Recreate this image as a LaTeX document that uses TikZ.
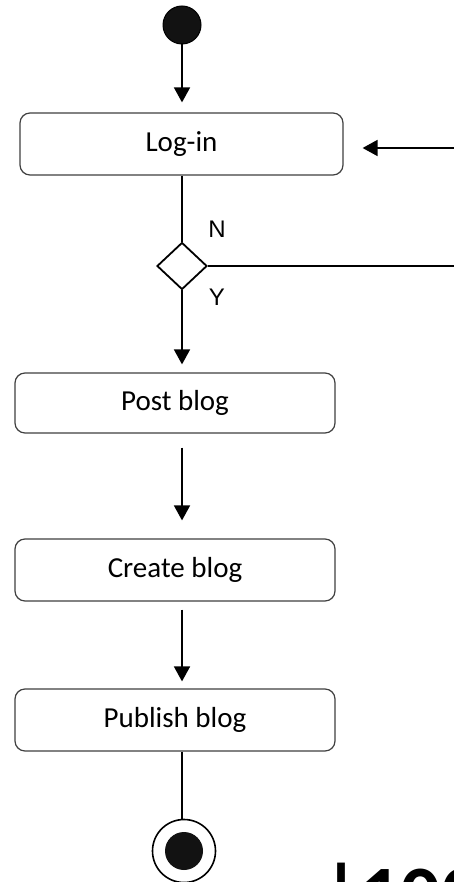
\documentclass[tikz,border=0pt]{standalone}
\usepackage{fontspec}
\setmainfont{Carlito}
\newfontfamily\labelfont{Liberation Sans}
\usetikzlibrary{shapes.geometric,arrows.meta}

\begin{document}
\begin{tikzpicture}[x=1pt,y=-1pt,
  flow/.style={line width=1.8pt,-{Triangle[length=15pt,width=16pt]}},
  plain/.style={line width=1.8pt},
  activity/.style={draw=black!75,line width=1.2pt,rounded corners=10pt,
    minimum width=320pt,minimum height=62pt,inner sep=0pt,
    font=\fontsize{29}{33}\selectfont},
  guard/.style={font=\labelfont\fontsize{24}{28}\selectfont,inner sep=0pt},
]
% page area
\clip (0,0) rectangle (454,882);
\fill[white] (0,0) rectangle (454,882);

% initial node
\node[circle,fill=black!93,draw=black,line width=1pt,minimum size=38pt,inner sep=0pt] (start) at (182,25) {};

% activities
\node[activity,minimum width=323pt] (login) at (181.5,144) {Log-in};
\node[activity,minimum height=60pt] (post) at (175,403) {Post blog};
\node[activity] (create) at (175,570) {Create blog};
\node[activity] (publish) at (175,720) {Publish blog};

% decision
\node[diamond,draw=black,line width=1.8pt,minimum width=50pt,minimum height=47pt,inner sep=0pt,aspect=1] (dec) at (182,266) {};
\node[guard] (nlab) at (217,229) {N};
\node[guard] (ylab) at (217,297) {Y};

% final node
\node[circle,draw=black,line width=1.6pt,minimum size=63pt,inner sep=0pt] (stop) at (184,851) {};
\node[circle,fill=black!93,minimum size=38pt,inner sep=0pt] (stopdot) at (stop.center) {};

% loose ends on the right
\coordinate (retin) at (454,148);
\coordinate (retout) at (454,266);

% connectors
\draw[flow,shorten <=-1pt,shorten >=10pt] (start) -- (start |- login.north);
\draw[flow,shorten >=19pt] (retin) -- (login.east |- retin);
\draw[plain] (login.south -| dec) -- (dec.north);
\draw[plain] (dec.east) -- (retout);
\draw[flow,shorten >=8pt] (dec.south) -- (dec.south |- post.north);
\draw[flow,shorten <=14pt,shorten >=18pt] (post.south -| dec) -- (create.north -| dec);
\draw[flow,shorten <=8pt,shorten >=7pt] (create.south -| dec) -- (publish.north -| dec);
\draw[plain] (publish.south -| dec) -- (stop.north -| dec);

% page number in the footer
\node[anchor=base west,inner sep=0pt,font=\bfseries\fontsize{80}{90}\selectfont] (pageno) at (322,921) {|100};
\end{tikzpicture}
\end{document}
